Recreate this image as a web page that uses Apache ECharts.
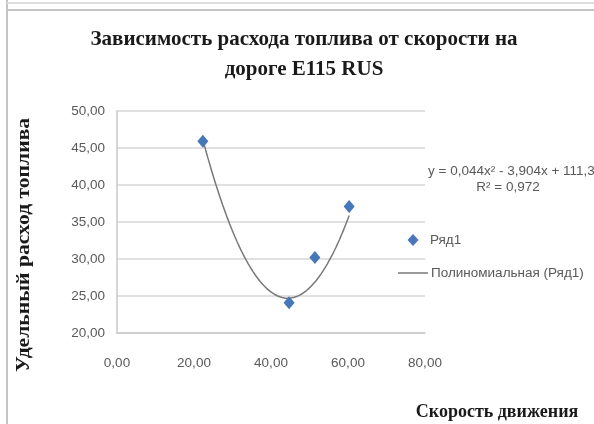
<!DOCTYPE html>
<html>
<head>
<meta charset="utf-8">
<script src="https://cdn.jsdelivr.net/npm/echarts@6/dist/echarts.min.js"></script>
<style>
  html, body { margin: 0; padding: 0; background: #fff; }
  #chart { width: 594px; height: 424px; }
</style>
</head>
<body>
<div id="chart"></div>
<script>
// Measured speed (x) and specific fuel consumption (y)
const speed = [22.3, 44.7, 51.4, 60.3];
const consumption = [45.9, 24.1, 30.2, 37.1];

// Polynomial trendline y = a*x^2 + b*x + c, as printed on the chart
const trendCoef = [0.044, -3.904, 111.3];
const trendLabel = 'y = 0,044x\u00B2 - 3,904x + 111,3';
const r2Label = 'R\u00B2 = 0,972';

// Axis ranges and tick step
const xTicks = [0, 80, 20];
const yTicks = [20, 50, 5];

const titleLines = ['Зависимость расхода топлива от скорости на', 'дороге E115 RUS'];
const xTitle = 'Скорость движения';
const yTitle = 'Удельный расход топлива';
const seriesName = 'Ряд1';
const trendName = 'Полиномиальная (Ряд1)';

const fmt = v => v.toFixed(2).replace('.', ',');

// Trendline sampled across the measured speed range
const xMin = Math.min(...speed), xMax = Math.max(...speed);
const trendPts = [];
const steps = 120;
for (let i = 0; i <= steps; i++) {
  const x = xMin + (xMax - xMin) * i / steps;
  trendPts.push([x, trendCoef[0] * x * x + trendCoef[1] * x + trendCoef[2]]);
}

const labelFont = '"Liberation Sans", Arial, sans-serif';
const serifFont = '"Liberation Serif", "Times New Roman", serif';
const textGray = '#595959';
const borderGray = '#c4c4c4';
const markerBlue = '#4677b8';

const chart = echarts.init(document.getElementById('chart'), null, { renderer: 'canvas' });
chart.setOption({
  animation: false,
  backgroundColor: '#fff',
  grid: { left: 117, top: 111, right: 169, bottom: 91 },
  xAxis: {
    type: 'value', min: xTicks[0], max: xTicks[1], interval: xTicks[2],
    axisLine: { show: true, lineStyle: { color: '#c8c8c8', width: 1.5 } },
    axisTick: { show: false },
    splitLine: { show: false },
    axisLabel: { formatter: fmt, color: textGray, fontFamily: labelFont, fontSize: 13.5, margin: 23 }
  },
  yAxis: {
    type: 'value', min: yTicks[0], max: yTicks[1], interval: yTicks[2],
    axisLine: { show: true, lineStyle: { color: '#c8c8c8', width: 1.5 } },
    axisTick: { show: false },
    splitLine: { show: true, lineStyle: { color: '#d6d6d6', width: 1.5 } },
    axisLabel: { formatter: fmt, color: textGray, fontFamily: labelFont, fontSize: 13.5, margin: 12 }
  },
  series: [
    {
      name: trendName, type: 'line', data: trendPts, showSymbol: false, smooth: false,
      lineStyle: { color: '#787878', width: 1.5 }, z: 2
    },
    {
      name: seriesName, type: 'scatter', data: speed.map((x, i) => [x, consumption[i]]),
      symbol: 'diamond', symbolSize: [11, 13],
      itemStyle: { color: markerBlue, opacity: 1 }, z: 3
    }
  ],
  graphic: [
    // frame
    { type: 'line', shape: { x1: 7, y1: 0, x2: 7, y2: 424 }, style: { stroke: borderGray, lineWidth: 2 } },
    { type: 'line', shape: { x1: 7, y1: 3, x2: 594, y2: 3 }, style: { stroke: '#dcdcdc', lineWidth: 2 } },
    { type: 'line', shape: { x1: 7, y1: 10, x2: 594, y2: 10 }, style: { stroke: borderGray, lineWidth: 2 } },
    // title
    { type: 'text', x: 304, y: 40, style: { text: titleLines[0], font: 'bold 21px ' + serifFont, fill: '#1a1a1a', textAlign: 'center', textVerticalAlign: 'middle' } },
    { type: 'text', x: 304, y: 70, style: { text: titleLines[1], font: 'bold 21px ' + serifFont, fill: '#1a1a1a', textAlign: 'center', textVerticalAlign: 'middle' } },
    // axis titles
    { type: 'text', x: 24, y: 245, rotation: Math.PI / 2, scaleX: 1.2, style: { text: yTitle, font: 'bold 18px ' + serifFont, fill: '#1a1a1a', textAlign: 'center', textVerticalAlign: 'middle' } },
    { type: 'text', x: 497, y: 412, style: { text: xTitle, font: 'bold 18px ' + serifFont, fill: '#1a1a1a', textAlign: 'center', textVerticalAlign: 'middle' } },
    // trendline equation
    { type: 'text', x: 428, y: 171, style: { text: trendLabel, font: '13.5px ' + labelFont, fill: textGray, textAlign: 'left', textVerticalAlign: 'middle' } },
    { type: 'text', x: 508, y: 187, style: { text: r2Label, font: '13.5px ' + labelFont, fill: textGray, textAlign: 'center', textVerticalAlign: 'middle' } },
    // legend
    { type: 'polygon', shape: { points: [[413, 234], [418.5, 240], [413, 246], [407.5, 240]] }, style: { fill: markerBlue } },
    { type: 'text', x: 430, y: 240, style: { text: seriesName, font: '13.5px ' + labelFont, fill: textGray, textAlign: 'left', textVerticalAlign: 'middle' } },
    { type: 'line', shape: { x1: 398, y1: 273, x2: 428, y2: 273 }, style: { stroke: '#787878', lineWidth: 1.5 } },
    { type: 'text', x: 431, y: 273, style: { text: trendName, font: '13.5px ' + labelFont, fill: textGray, textAlign: 'left', textVerticalAlign: 'middle' } }
  ]
});
</script>
</body>
</html>
